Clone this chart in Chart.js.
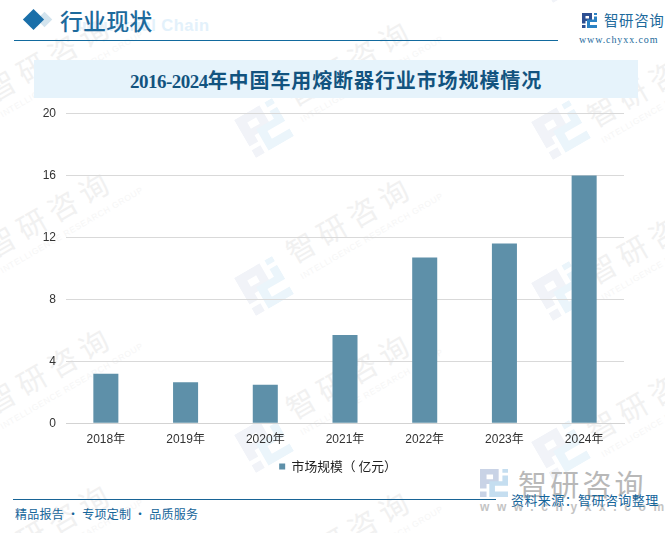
<!DOCTYPE html>
<html><head><meta charset="utf-8">
<script src="https://cdn.jsdelivr.net/npm/chart.js@4"></script>
<style>
html,body{margin:0;padding:0;background:#fff;}
#page{position:relative;width:665px;height:533px;overflow:hidden;background:#fff;font-family:"Noto Sans CJK SC",sans-serif;}
#page div,#page svg{position:absolute;white-space:nowrap;}
#page span{letter-spacing:-.5px;font-size:19px;}
canvas{position:absolute;left:0;top:0;}
.wm{transform:rotate(-30deg);transform-origin:left bottom;color:#f1f1f1;font:29px/34px 'Noto Sans CJK SC';letter-spacing:6.5px;}
.wme{transform:rotate(-30deg);transform-origin:left bottom;color:#f6f6f6;font:8.5px/11px 'Liberation Sans';letter-spacing:.7px;}
</style></head><body>
<div id="page">
<svg width="0" height="0"><defs>
<path id="lg1" fill-rule="evenodd" d="M0 0H20V16H7V21H0Z M7 6V11H14V6Z M0 24H7V30H0Z"/>
<path id="lg2" d="M24 0H30V4H24Z M24 7H30V18H16V24H30V30H10V13H24Z"/>
</defs></svg>
<div id="wms"></div>
<div style="left:34px;top:60px;width:604px;height:38px;background:#e6f3fb"></div>
<div style="left:77px;top:13px;font:bold 16.5px/24px 'Liberation Sans';color:#e3f1fb;letter-spacing:.5px">Industrial Chain</div>
<div style="left:38.5px;top:13.5px;width:11px;height:11px;background:#d3e4ee;transform:rotate(45deg)"></div>
<div style="left:25.5px;top:11.5px;width:15px;height:15px;background:#1a6fa9;transform:rotate(45deg)"></div>
<div style="left:60px;top:1.5px;font:500 23px/36px 'Noto Sans CJK SC';color:#1d6a9c;letter-spacing:.1px">行业现状</div>
<div style="left:14px;top:40px;width:544px;height:1px;background:#126a9e"></div>
<svg style="left:582px;top:13px" width="15" height="15" viewBox="0 0 30 30"><use href="#lg1" fill="#2d4f92"/><use href="#lg2" fill="#2a82c4"/></svg>
<div style="left:604px;top:10px;font:14.5px/20px 'Noto Sans CJK SC';color:#1d6a9c;letter-spacing:.6px">智研咨询</div>
<div style="left:579px;top:33px;font:10px/14px 'Liberation Serif';color:#1d6a9c;letter-spacing:.9px">www.chyxx.com</div>
<div style="left:34px;top:60px;width:604px;text-align:center;font:bold 20px/42px 'Liberation Serif','Noto Sans CJK SC';color:#12537f;letter-spacing:.9px"><span>2016-2024</span>年中国车用熔断器行业市场规模情况</div>
<div style="left:13px;top:499px;width:483px;height:1px;background:#186496"></div>
<div style="left:15px;top:505px;font:12px/18px 'Noto Sans CJK SC';color:#15659a;letter-spacing:.25px">精品报告 · 专项定制 · 品质服务</div>
<svg style="left:480px;top:469px" width="28" height="28" viewBox="0 0 30 30"><use href="#lg1" fill="#c9d3e6"/><use href="#lg2" fill="#c5def0"/></svg>
<div style="left:518px;top:462px;font:29px/42px 'Noto Sans CJK SC';color:#b8b8b8;letter-spacing:3.2px">智研咨询</div>
<div style="left:480px;top:499px;font:bold 12px/16px 'Liberation Sans';color:#c4c4c4;letter-spacing:7.6px">www.chyxx.com</div>
<div style="left:511px;top:491px;font:13px/18px 'Noto Sans CJK SC';color:#15659a;letter-spacing:.42px">资料来源：智研咨询整理</div>
<canvas id="c" width="665" height="533" style="width:665px;height:533px"></canvas>
</div>
<script>
const categories=["2018年","2019年","2020年","2021年","2022年","2023年","2024年"];
const seriesName="市场规模（ 亿元）";
const values=[3.2,2.65,2.48,5.7,10.7,11.6,16];
const yTicks=[0,4,8,12,16,20];
const wmText="智研咨询";
const wmEnglish="INTELLIGENCE RESEARCH GROUP";
const wmTextBase=[[-4,106],[-4,262],[-4,418],[-4,574],[296,111],[296,268],[296,424],[296,581],[597,132],[597,289],[597,446]];
const wmLogoTop=[[233,100],[233,258],[233,415],[530,-55],[530,102],[530,263],[530,422]];
const host=document.getElementById('wms');
wmTextBase.forEach(([x,y])=>{
 const d=document.createElement('div');d.className='wm';d.textContent=wmText;d.style.left=x+'px';d.style.top=(y-34)+'px';host.appendChild(d);
 const e=document.createElement('div');e.className='wme';e.textContent=wmEnglish;e.style.left=(x+8)+'px';e.style.top=(y+3)+'px';host.appendChild(e);
});
wmLogoTop.forEach(([x,y])=>{
 const ns='http://www.w3.org/2000/svg';
 const s=document.createElementNS(ns,'svg');s.setAttribute('width','44');s.setAttribute('height','44');s.setAttribute('viewBox','0 0 30 30');
 s.style.left=(x+9)+'px';s.style.top=(y+6)+'px';s.style.transform='rotate(-30deg)';
 s.innerHTML='<use href="#lg1" fill="#f1f3f8"/><use href="#lg2" fill="#ebf5fb"/>';
 host.appendChild(s);
});
new Chart(document.getElementById('c'),{
 type:'bar',
 data:{labels:categories,datasets:[{label:seriesName,data:values,backgroundColor:'#5e90a9',borderWidth:0,barPercentage:0.314,categoryPercentage:1}]},
 options:{responsive:false,animation:false,
  layout:{padding:{left:0,right:41,top:113.5,bottom:50}},
  plugins:{tooltip:{enabled:false},
   legend:{display:true,position:'bottom',labels:{boxWidth:6,boxHeight:6,padding:0,color:'#222',font:{family:"'Noto Sans CJK SC'",size:12.8}}}},
  scales:{
   x:{afterFit:a=>{a.height=37;},grid:{display:false,drawTicks:false},border:{color:'#d3d3d3',width:1},ticks:{color:'#333',font:{family:"'Liberation Sans','Noto Sans CJK SC'",size:12},padding:9,maxRotation:0}},
   y:{min:0,max:20,afterBuildTicks:a=>{a.ticks=yTicks.map(v=>({value:v}));},
      afterFit:a=>{a.width=66;},
      grid:{color:'#d9d9d9',drawTicks:false},border:{display:false},
      ticks:{color:'#333',padding:10,font:{family:"'Liberation Sans'",size:12}}}
  }
 },
 plugins:[{id:'legendShift',afterLayout(ch){ch.legend.left+=26;ch.legend.right+=26;}}]
});
</script>
</body></html>
